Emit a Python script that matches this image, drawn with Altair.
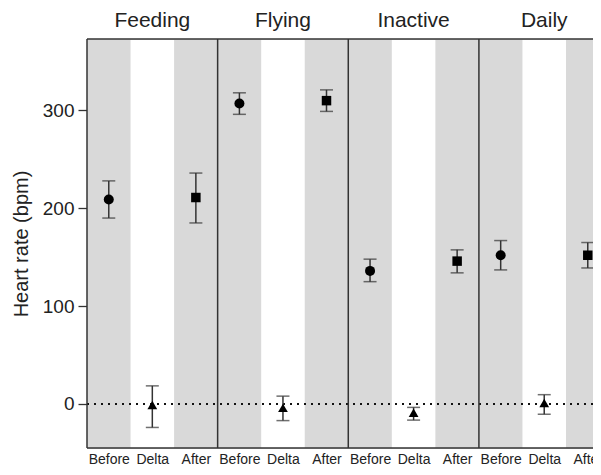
import json
import altair as alt
import pandas as pd

panels = ["Feeding", "Flying", "Inactive", "Daily"]
phases = ["Before", "Delta", "After"]

# mean, lower, upper per panel, in phase order Before, Delta, After
means = [[209, -1, 211], [307, -4, 310], [136, -9, 146], [152, 1, 152]]
lows = [[190, -24, 185], [296, -17, 299], [125, -16.5, 134], [137, -10.5, 139]]
highs = [[228, 18.5, 236], [318, 8, 321], [148, -3.5, 157.5], [167, 9.5, 165]]

y_ticks = [0, 100, 200, 300]
y_domain = [-45, 373]
x_max = 11.62  # the last panel runs past the right edge of the figure

rows = []
for i, p in enumerate(panels):
    for j, ph in enumerate(phases):
        rows.append({"panel": p, "phase": ph, "pos": i * 3 + j + 0.5,
                     "start": i * 3 + j, "end": i * 3 + j + 1,
                     "mean": means[i][j], "lo": lows[i][j], "hi": highs[i][j]})
df = pd.DataFrame(rows)
bands_df = df[df["phase"] != "Delta"]
heads_df = pd.DataFrame({"panel": panels, "pos": [i * 3 + 1.5 for i in range(len(panels))],
                         "left": [i * 3 for i in range(len(panels))]})
zero_df = pd.DataFrame({"x0": [0], "x1": [x_max], "y": [0]})
frame_df = pd.DataFrame({"x0": [0], "x1": [x_max]})

W = 506
H = 409
FONT = "Liberation Sans"
DARK = "#222"
BAR = "#333"

xscale = alt.Scale(domain=[0, x_max], nice=False, zero=False)
yscale = alt.Scale(domain=y_domain, nice=False, zero=False)
label_expr = json.dumps(phases) + "[floor(datum.value) % 3]"
xaxis = alt.Axis(title=None, values=[i + 0.5 for i in range(12)], labelExpr=label_expr,
                 labelAngle=0, ticks=False, domain=False, grid=False, labelFlush=False,
                 labelOverlap=False, labelFontSize=14, labelFont=FONT,
                 labelColor=DARK, labelPadding=4.5)
yaxis = alt.Axis(title="Heart rate (bpm)", values=y_ticks, grid=False,
                 domain=False, tickSize=9, tickColor="#333", tickWidth=1.3,
                 labelFontSize=19, labelFont=FONT, labelColor=DARK, labelPadding=4,
                 titleFontSize=20, titleFont=FONT, titleFontWeight="normal",
                 titleColor=DARK, titlePadding=11)

bands = alt.Chart(bands_df).mark_rect(color="#d9d9d9").encode(
    x=alt.X("start:Q", scale=xscale, axis=xaxis), x2="end:Q",
    y=alt.value(0), y2=alt.value(H))

zero = alt.Chart(zero_df).mark_rule(color="#111", strokeWidth=2, strokeDash=[2, 5]).encode(
    x=alt.X("x0:Q", scale=xscale), x2="x1:Q",
    y=alt.Y("y:Q", scale=yscale, axis=yaxis))

err = alt.Chart(df).mark_rule(color=BAR, strokeWidth=1.5).encode(
    x=alt.X("pos:Q", scale=xscale), y=alt.Y("lo:Q", scale=yscale), y2="hi:Q")
cap_lo = alt.Chart(df).mark_tick(color=BAR, size=13, thickness=1.5,
                                 orient="horizontal").encode(
    x=alt.X("pos:Q", scale=xscale), y=alt.Y("lo:Q", scale=yscale))
cap_hi = alt.Chart(df).mark_tick(color=BAR, size=13, thickness=1.5,
                                 orient="horizontal").encode(
    x=alt.X("pos:Q", scale=xscale), y=alt.Y("hi:Q", scale=yscale))

pts = alt.Chart(df).mark_point(filled=True, color="black", opacity=1).encode(
    x=alt.X("pos:Q", scale=xscale),
    y=alt.Y("mean:Q", scale=yscale),
    shape=alt.Shape("phase:N", scale=alt.Scale(domain=phases,
                    range=["circle", "triangle-up", "square"]), legend=None),
    size=alt.Size("phase:N", scale=alt.Scale(domain=phases, range=[100, 90, 80]),
                  legend=None),
)

vlines = alt.Chart(heads_df).mark_rule(color="#333", strokeWidth=1.5).encode(
    x=alt.X("left:Q", scale=xscale), y=alt.value(0), y2=alt.value(H))
hlines_top = alt.Chart(frame_df).mark_rule(color="#333", strokeWidth=1.5).encode(
    x=alt.X("x0:Q", scale=xscale), x2="x1:Q", y=alt.value(0))
hlines_bot = alt.Chart(frame_df).mark_rule(color="#333", strokeWidth=1.5).encode(
    x=alt.X("x0:Q", scale=xscale), x2="x1:Q", y=alt.value(H))

heads = alt.Chart(heads_df).mark_text(font=FONT, fontSize=21, color=DARK,
                                      baseline="alphabetic", align="center").encode(
    x=alt.X("pos:Q", scale=xscale), y=alt.value(-12), text="panel:N")

chart = alt.layer(bands, zero, err, cap_lo, cap_hi, pts, vlines, hlines_top, hlines_bot,
                  heads).properties(
    width=W, height=H,
    autosize=alt.AutoSizeParams(type="none"),
    padding={"left": 79, "top": 31, "right": 0, "bottom": 19},
).configure_view(stroke=None).configure(background="white")

chart.save("out.html", embed_options={"renderer": "svg", "actions": False})
